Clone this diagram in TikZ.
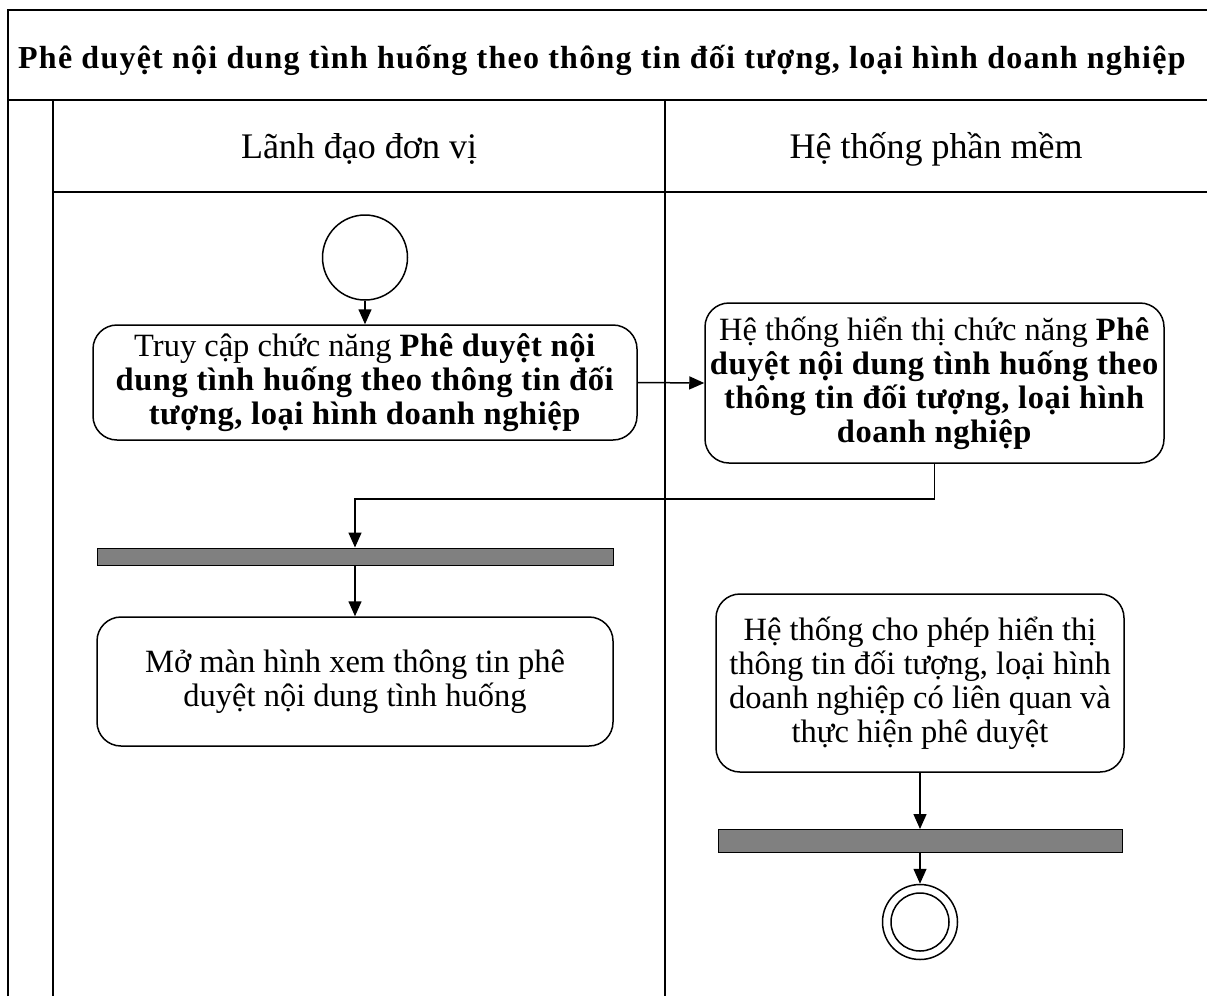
\documentclass[tikz,border=0pt]{standalone}
\usepackage{fontspec}
\setmainfont{Liberation Serif}[BoldFeatures={LetterSpace=1.8}]
\newfontfamily\headfont{Liberation Serif}[BoldFeatures={LetterSpace=3.9}]
\usetikzlibrary{arrows.meta}
\definecolor{barfill}{RGB}{128,128,128}
\begin{document}
\begin{tikzpicture}[x=1pt,y=-1pt,
  laneline/.style={draw=black, line width=1.8pt},
  act/.style={draw, rounded corners=24pt, line width=1.5pt, align=center,
    font=\fontsize{32.5}{34}\selectfont, inner sep=0pt},
  bar/.style={draw, fill=barfill, line width=1pt, inner sep=0pt},
  flow/.style={-{Triangle[length=15pt,width=13pt]}, line width=1.5pt},
  lanehead/.style={font=\fontsize{36}{40}\selectfont, inner sep=0pt}]
\useasboundingbox (0,0) rectangle (1207,996);

% swimlane frame
\draw[laneline] (8,996) -- (8,10) -- (1207,10);
\draw[laneline] (8,100) -- (1207,100);
\draw[laneline] (53,100) -- (53,996);
\draw[laneline] (53,192) -- (1207,192);
\draw[laneline] (665,100) -- (665,996);

% titles
\node[anchor=base west, inner sep=0pt, font=\headfont\fontsize{32}{36}\selectfont\bfseries] (title) at (18,68)
  {Phê duyệt nội dung tình huống theo thông tin đối tượng, loại hình doanh nghiệp};
\node[lanehead] (lane1) at (359,149) {Lãnh đạo đơn vị};
\node[lanehead] (lane2) at (936,149) {Hệ thống phần mềm};

% activity nodes
\node[circle, draw, line width=1.5pt, minimum size=85pt, inner sep=0pt] (start) at (365,257.5) {};
\node[act, minimum width=544pt, minimum height=115pt] (b1) at (365,382.5)
  {Truy cập chức năng \textbf{Phê duyệt nội}\\
   \textbf{dung tình huống theo thông tin đối}\\
   \textbf{tượng, loại hình doanh nghiệp}};
\node[act, minimum width=459pt, minimum height=160pt] (b2) at (934.5,383)
  {Hệ thống hiển thị chức năng \textbf{Phê}\\
   \textbf{duyệt nội dung tình huống theo}\\
   \textbf{thông tin đối tượng, loại hình}\\
   \textbf{doanh nghiệp}};
\node[bar, minimum width=516pt, minimum height=17pt] (bar1) at (355,556.5) {};
\node[act, minimum width=516pt, minimum height=129pt] (b3) at (355,681.5)
  {Mở màn hình xem thông tin phê\\ duyệt nội dung tình huống};
\node[act, minimum width=408pt, minimum height=178pt] (b4) at (920,683)
  {Hệ thống cho phép hiển thị\\ thông tin đối tượng, loại hình\\
   doanh nghiệp có liên quan và\\ thực hiện phê duyệt};
\node[bar, minimum width=404pt, minimum height=23pt] (bar2) at (920,841) {};
\node[circle, draw, line width=1.5pt, minimum size=75pt, inner sep=0pt] (final) at (920,922) {};
\node[circle, draw, line width=1.5pt, minimum size=58pt, inner sep=0pt] (finalin) at (final.center) {};

% flows
\coordinate (j) at (355,499);
\draw[flow] (start) -- (b1);
\draw[flow] (b1.east) -- (b2.west);
\draw[flow] (b2.south) |- (j) -- (bar1.north);
\draw[flow] (bar1.south) -- (b3.north);
\draw[flow] (b4.south) -- (bar2.north);
\draw[flow] (bar2.south) -- (final.north);
\end{tikzpicture}
\end{document}
